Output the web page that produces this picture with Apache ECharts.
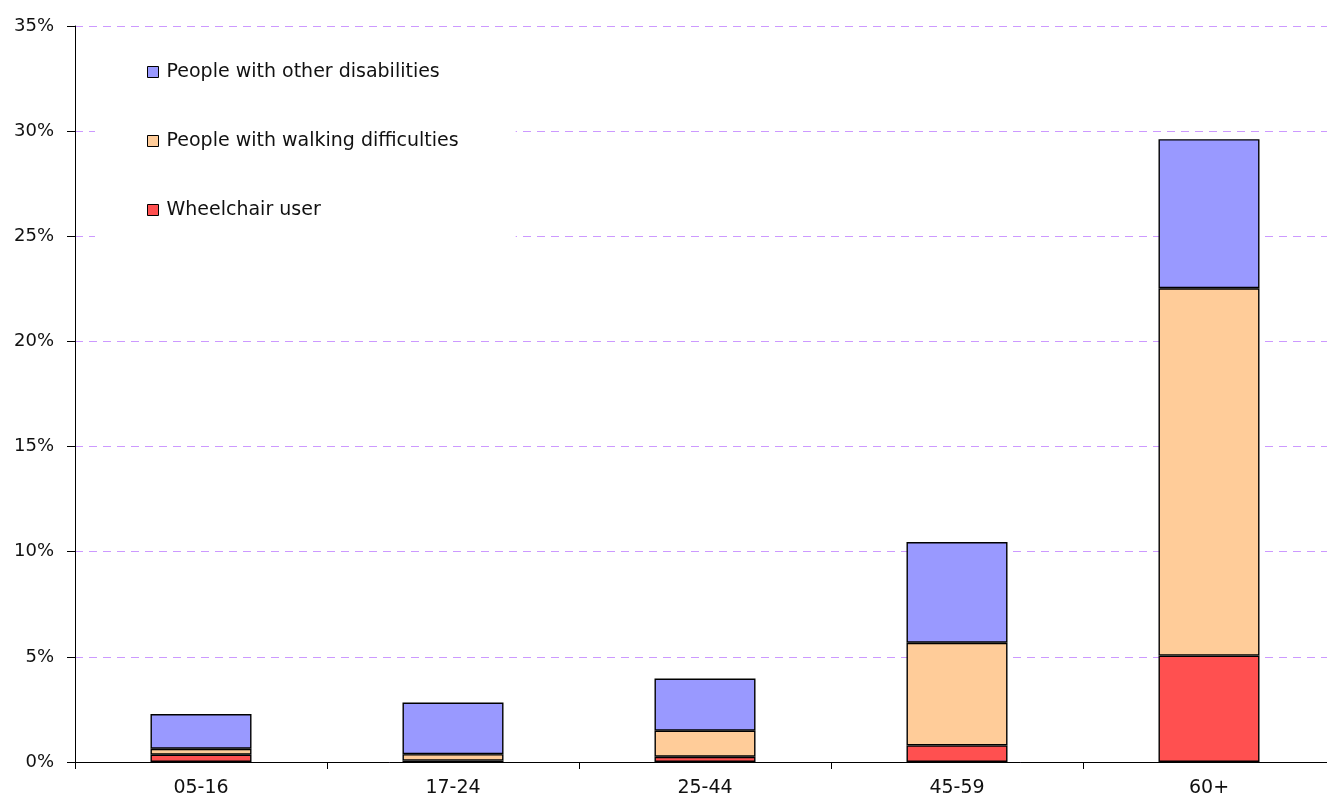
<!DOCTYPE html>
<html>
<head>
<meta charset="utf-8">
<script src="https://cdn.jsdelivr.net/npm/echarts@6/dist/echarts.min.js"></script>
<style>
  html, body { margin: 0; padding: 0; background: #fff; overflow: hidden; }
  /* the category axis runs a little past the right edge of the window */
  #chart { width: 1335px; height: 798px; }
</style>
</head>
<body>
<div id="chart"></div>
<script>
// Age groups along the x axis
const ageGroups = ['05-16', '17-24', '25-44', '45-59', '60+'];

// Share of each age group (percent), stacked bottom to top
const wheelchairUser = [0.35, 0.07, 0.25, 0.79, 5.06];
const walkingDifficulties = [0.28, 0.30, 1.24, 4.88, 17.47];
const otherDisabilities = [1.65, 2.46, 2.48, 4.79, 7.09];

// Value axis range and step
const yMin = 0;
const yMax = 35;
const yStep = 5;

const fontFamily = '"DejaVu Sans", Verdana, sans-serif';

const chart = echarts.init(document.getElementById('chart'));

function barSeries(name, data, color) {
  return {
    name: name,
    type: 'bar',
    stack: 'total',
    data: data,
    barWidth: 101,
    itemStyle: { color: color, borderColor: '#000', borderWidth: 1.4 },
    emphasis: { disabled: true }
  };
}

chart.setOption({
  animation: false,
  backgroundColor: '#fff',
  grid: { left: 75, right: 0, top: 26, bottom: 34.5, containLabel: false },
  legend: {
    orient: 'vertical',
    left: 95,
    top: 36,
    backgroundColor: '#fff',
    padding: [25, 57, 25, 52],
    itemGap: 47,
    itemWidth: 11,
    itemHeight: 11,
    icon: 'rect',
    data: ['People with other disabilities', 'People with walking difficulties', 'Wheelchair user'],
    itemStyle: { borderColor: '#000', borderWidth: 1 },
    textStyle: { fontFamily: fontFamily, fontSize: 19, color: '#111', lineHeight: 22, padding: [0, 0, 0, 3] },
    selectedMode: false
  },
  xAxis: {
    type: 'category',
    data: ageGroups,
    axisLine: { lineStyle: { color: '#000', width: 1 } },
    axisTick: { show: true, length: 7, lineStyle: { color: '#000' } },
    axisLabel: { fontFamily: fontFamily, fontSize: 19, color: '#111', margin: 17 },
    splitLine: { show: false }
  },
  yAxis: {
    type: 'value',
    min: yMin,
    max: yMax,
    interval: yStep,
    axisLine: { show: true, lineStyle: { color: '#000', width: 1 } },
    axisTick: { show: true, length: 8, lineStyle: { color: '#000' } },
    axisLabel: { fontFamily: fontFamily, fontSize: 18, color: '#111', formatter: '{value}%', margin: 21 },
    splitLine: { show: true, lineStyle: { color: '#CC99FF', type: [8, 6], width: 1 } }
  },
  series: [
    barSeries('Wheelchair user', wheelchairUser, '#FF5050'),
    barSeries('People with walking difficulties', walkingDifficulties, '#FFCC99'),
    barSeries('People with other disabilities', otherDisabilities, '#9999FF')
  ]
});
</script>
</body>
</html>
